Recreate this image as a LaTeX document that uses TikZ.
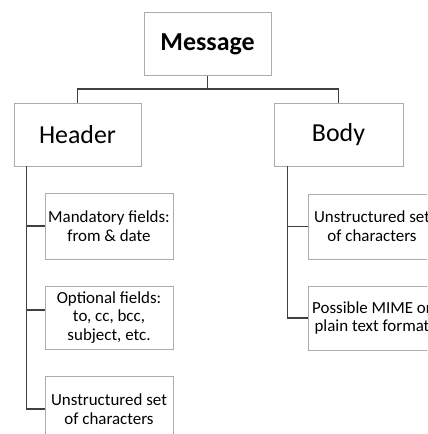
\documentclass[tikz,border=0pt]{standalone}
\usepackage{fontspec}
\setmainfont{Carlito}
\usetikzlibrary{positioning,calc}
\tikzset{
	topbox/.style={draw=gray!65, line width=0.9pt, minimum width=127bp, minimum height=63bp, inner sep=0pt, font=\fontsize{26}{31}\selectfont},
	subbox/.style={draw=gray!65, line width=0.9pt, minimum width=128bp, minimum height=65bp, inner sep=0pt, align=center, font=\fontsize{17}{18.8}\selectfont},
	link/.style={draw=black!75, line width=1.2pt}
}

\begin{document}
\begin{tikzpicture}[x=1bp, y=-1bp]
	\path[use as bounding box, clip] (0,0) rectangle (427,434);
	\begin{scope}
		\node[topbox] (msg) at (207.5, 44) {\textbf{Message}};
		\node[topbox] (hdr) at (77.5, 134.5) {Header};
		\node[topbox, minimum width=129bp] (body) at (338.5, 134.5) {Body};
		
		\node[subbox, minimum height=66bp] (mand) at (109, 226) {Mandatory fields:\\from \& date};
		\node[subbox, minimum height=63bp] (opt) at (109, 317.5) {Optional fields:\\to, cc, bcc,\\subject, etc.};
		\node[subbox, minimum height=66bp] (chars) at (109, 409) {Unstructured set\\of characters};
		
		\node[subbox] (bchars) at (372, 226.5) {Unstructured set\\of characters};
		\node[subbox, minimum height=64bp] (mime) at (372, 318) {Possible MIME or\\plain text format};
		
		\coordinate (htrunk) at ([xshift=13bp]hdr.south west);
		\coordinate (btrunk) at ([xshift=14bp]body.south west);
		\coordinate (optin) at ([yshift=7.5bp]opt.west);
		
		\draw[link] (msg.south) -- ++(0,13) -| (hdr.north);
		\draw[link] (msg.south) ++(0,13) -| (body.north);
		
		\draw[link] (htrunk) |- (chars.west);
		\draw[link] (htrunk |- mand.west) -- (mand.west);
		\draw[link] (htrunk |- optin) -- (optin);
		
		\draw[link] (btrunk) |- (mime.west);
		\draw[link] (btrunk |- bchars.west) -- (bchars.west);
	\end{scope}
\end{tikzpicture}
\end{document}
